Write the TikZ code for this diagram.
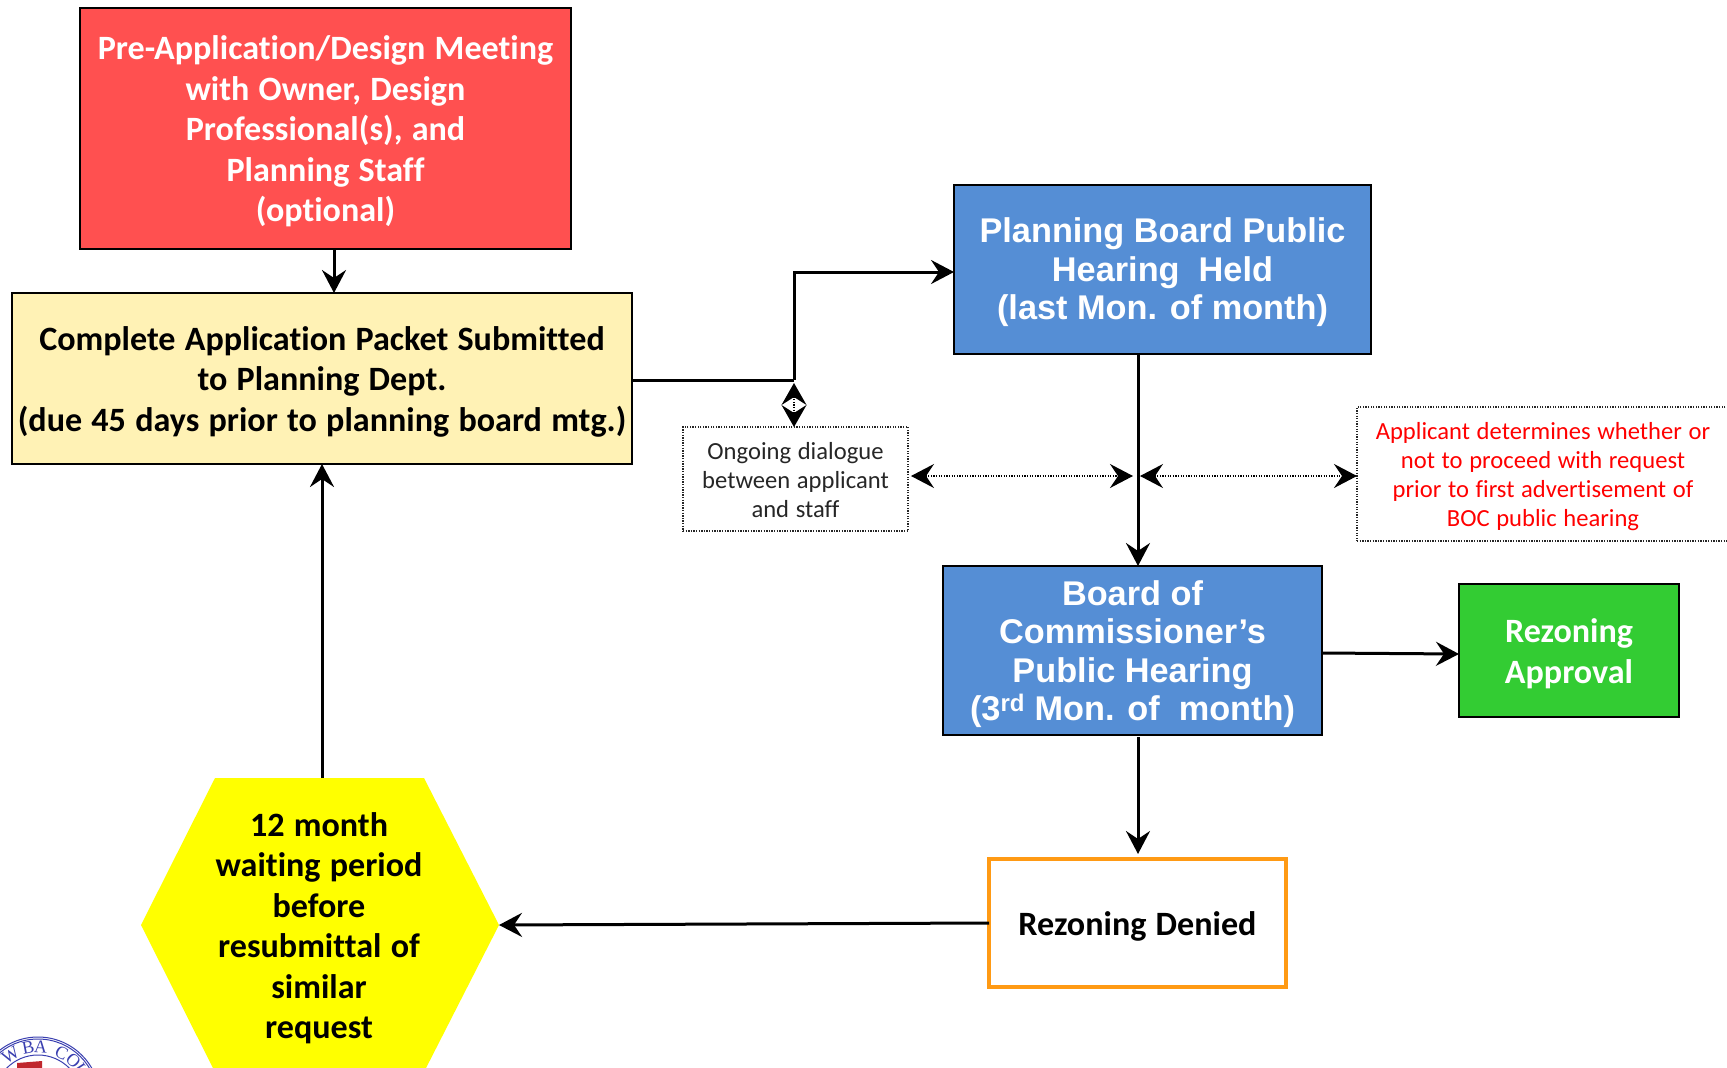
\documentclass[tikz,border=0pt]{standalone}
\usepackage{fontspec}
\setmainfont[Ligatures=NoCommon,RawFeature={-liga;-clig;-dlig;-calt},WordSpace=1.2]{Carlito}
\newfontfamily\arialfont{Liberation Sans}
\newfontfamily\seriffont{Liberation Serif}
\usetikzlibrary{arrows.meta,calc}
\definecolor{redbox}{HTML}{FF5050}
\definecolor{creambox}{HTML}{FFF2B5}
\definecolor{bluebox}{HTML}{558ED5}
\definecolor{greenbox}{HTML}{33CC33}
\definecolor{orangeline}{HTML}{FF9A14}
\definecolor{hexfill}{HTML}{FFFF00}
\definecolor{logoblue}{HTML}{3A3FB0}
\definecolor{logored}{HTML}{C0272D}
\tikzset{
  x=1pt,y=-1pt,
  box/.style={draw=black,line width=1.8pt,inner sep=0pt,outer sep=0pt},
  cal/.style={align=center,inner sep=0pt,font=\fontsize{34.1}{40.5}\selectfont\bfseries},
  ari/.style={align=center,inner sep=0pt,font=\fontsize{34.3}{38.5}\selectfont\arialfont\bfseries},
  notebox/.style={draw=black!85,line width=1.3pt,dash pattern=on 1.3pt off 1.3pt,inner sep=0pt,outer sep=0pt},
  notetext/.style={align=center,inner sep=0pt,font=\fontsize{24.6}{29}\selectfont},
  arr/.style={line width=3pt,-{Stealth[length=23pt,width=24pt,inset=8pt]}},
  plain/.style={line width=3pt},
  dotarr/.style={line width=1.3pt,dash pattern=on 1.3pt off 1.3pt,{Stealth[length=23pt,width=24pt,inset=8pt]}-{Stealth[length=23pt,width=24pt,inset=8pt]}},
  logoline/.style={draw=logoblue,line width=1pt},
  logotext/.style={text=logoblue,inner sep=0pt,font=\fontsize{18}{18}\selectfont\seriffont}
}
\begin{document}
\begin{tikzpicture}
\useasboundingbox (0,0) rectangle (1727,1068);
\clip (0,0) rectangle (1727,1068);
\fill[white] (0,0) rectangle (1727,1068);

% logo fragment
\fill[logored] (17,1063) -- (42,1061) -- (42,1068) -- (17,1068) -- cycle;
\draw[logoline] (38,1099) circle[radius=62];
\draw[logoline] (38,1099) circle[radius=60];
\draw[logoline] (38,1099) circle[radius=44];
\coordinate (lgc) at (38,1099);
\foreach \ch/\ang/\i in {W/-32/2,B/-11/3,A/3/4,C/27/5,O/43/6,U/57/7}{
  \node[logotext,rotate=-\ang] (lt\i) at ($(lgc)+({52*sin(\ang)},{-52*cos(\ang)})$) {\ch};
}

% boxes
\node[box,fill=redbox,minimum width=491pt,minimum height=241pt] (red) at (325.5,128.5) {};
\node[cal,text=white] (redt) at ($(red)+(0,3)$)
  {Pre-Application/Design Meeting\\with Owner, Design\\Professional(s), and\\Planning Staff\\(optional)};
\node[box,fill=creambox,minimum width=620pt,minimum height=171pt] (packet) at (322,378.5) {};
\node[cal] (packett) at ($(packet)+(0,3)$)
  {Complete Application Packet Submitted\\to Planning Dept.\\(due 45 days prior to planning board mtg.)};
\node[box,fill=bluebox,minimum width=417pt,minimum height=169pt] (pb) at (1162.5,269.5) {};
\node[ari,text=white] (pbt) at ($(pb)+(0,3)$)
  {Planning Board Public\\Hearing\ \ Held\\(last Mon. of month)};
\node[box,fill=bluebox,minimum width=379pt,minimum height=169pt] (boc) at (1132.5,650.5) {};
\node[ari,text=white] (boct) at ($(boc)+(0,3.5)$)
  {Board of\\Commissioner’s\\Public Hearing\\(3\textsuperscript{rd} Mon. of\ \ month)};
\node[box,fill=greenbox,minimum width=220pt,minimum height=133pt] (appr) at (1569,650.5) {};
\node[cal,text=white] (apprt) at ($(appr)+(0,3)$) {Rezoning\\Approval};
\node[box,draw=orangeline,line width=3.6pt,fill=white,minimum width=297pt,minimum height=128pt] (denied) at (1137.5,923) {};
\node[cal] (deniedt) at ($(denied)+(0,3.5)$) {Rezoning Denied};
\node[notebox,minimum width=225pt,minimum height=104pt] (dialog) at (795.5,479) {};
\node[notetext,text=black!85] (dialogt) at ($(dialog)+(0,1)$)
  {Ongoing dialogue\\between applicant\\and staff};
\node[notebox,minimum width=372pt,minimum height=134pt] (determ) at (1543,474) {};
\node[notetext,text=red] (determt) at ($(determ)+(0,3)$)
  {Applicant determines whether or\\not to proceed with request\\prior to first advertisement of\\BOC public hearing};

% hexagon
\fill[hexfill] (215,778) -- (424,778) -- (499,925) -- (424,1072) -- (215,1072) -- (141,925) -- cycle;
\coordinate (hexT) at (322,778);
\coordinate (hexR) at (499,925);
\node[cal] (hex) at (319,928)
  {12 month\\waiting period\\before\\resubmittal of\\similar\\request};

% junctions
\coordinate (jA) at (794,380);
\coordinate (jB) at (794,272);
\coordinate (jC) at (1138,476);

% connectors
\coordinate (jD) at (334,293);
\draw[arr] (red.south -| jD) -- (packet.north -| jD);
\draw[plain] (packet.east |- jA) -- (jA);
\draw[arr,line join=miter] (jA) -- (jB) -- (pb.west |- jB);
\draw[line width=1.3pt,dash pattern=on 1.3pt off 1.3pt,{Stealth[length=22pt,width=25pt,inset=8pt]}-{Stealth[length=22pt,width=25pt,inset=8pt]}] ($(jA)+(0,3)$) -- (dialog.north -| jA);
\draw[arr] (pb.south -| jC) -- (boc.north -| jC);
\draw[dotarr] ($(dialog.east |- jC)+(3,0)$) -- ($(jC)+(-5,0)$);
\draw[dotarr] ($(jC)+(2,0)$) -- (determ.west |- jC);
\draw[arr] ($(boc.east)+(0,2.5)$) -- ($(appr.west)+(0,3.5)$);
\draw[arr,shorten <=2pt,shorten >=5pt] (boc.south -| jC) -- (denied.north -| jC);
\draw[arr] (denied.west) -- (hexR);
\draw[arr] (hexT) -- (packet.south -| hexT);
\end{tikzpicture}
\end{document}
